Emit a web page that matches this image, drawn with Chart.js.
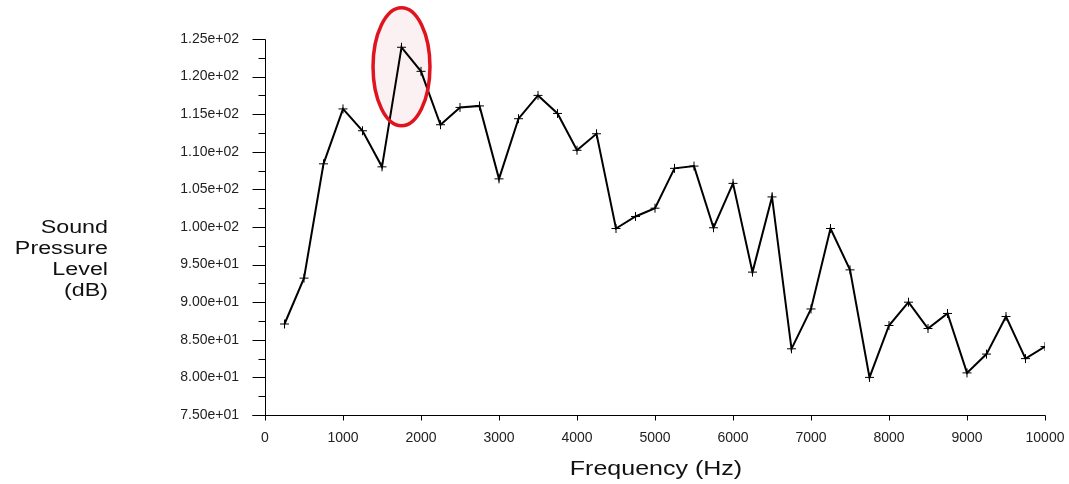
<!DOCTYPE html>
<html>
<head>
<meta charset="utf-8">
<script src="https://cdn.jsdelivr.net/npm/chart.js@4"></script>
<style>
  html, body { margin: 0; padding: 0; background: #fff; }
  #wrap { width: 1069px; height: 484px; position: relative; }
</style>
</head>
<body>
<div id="wrap"><canvas id="spl-chart"></canvas></div>
<script>
// Frequency (Hz) and sound pressure level (dB)
const frequencies = [250, 500, 750, 1000, 1250, 1500, 1750, 2000, 2250, 2500,
  2750, 3000, 3250, 3500, 3750, 4000, 4250, 4500, 4750, 5000,
  5250, 5500, 5750, 6000, 6250, 6500, 6750, 7000, 7250, 7500,
  7750, 8000, 8250, 8500, 8750, 9000, 9250, 9500, 9750, 10000];
const splValues = [87.1, 93.2, 108.4, 115.7, 112.8, 108.0, 123.9, 120.7, 113.6, 115.9,
  116.1, 106.4, 114.4, 117.5, 115.1, 110.2, 112.4, 99.8, 101.4, 102.5,
  107.8, 108.1, 99.9, 105.8, 94.0, 104.0, 83.8, 89.1, 99.8, 94.3,
  80.0, 86.9, 90.0, 86.5, 88.5, 80.6, 83.1, 88.1, 82.5, 84.1];

// Axis ticks
const xTicks = [0, 1000, 2000, 3000, 4000, 5000, 6000, 7000, 8000, 9000, 10000];
const yTicks = [75, 80, 85, 90, 95, 100, 105, 110, 115, 120, 125];
const yMinorTicks = [77.5, 82.5, 87.5, 92.5, 97.5, 102.5, 107.5, 112.5, 117.5, 122.5];

// Highlighted peak (ellipse centre and half sizes, in data units)
const highlight = { x: 1750, y: 121.3, rx: 365, ry: 7.85 };

const yTitleLines = ['Sound', 'Pressure', 'Level', '(dB)'];
const xTitle = 'Frequency (Hz)';

function sciLabel(v) {
  const parts = Number(v).toExponential(2).split('e');
  const exp = parts[1];
  return parts[0] + 'e' + exp[0] + exp.slice(1).padStart(2, '0');
}

// axes, tick marks, ellipse and titles
const decorPlugin = {
  id: 'decor',
  beforeDatasetsDraw(chart) {
    const { ctx, scales: { x, y } } = chart;
    const cx = x.getPixelForValue(highlight.x);
    const cy = y.getPixelForValue(highlight.y);
    const rx = x.getPixelForValue(highlight.x + highlight.rx) - cx;
    const ry = cy - y.getPixelForValue(highlight.y + highlight.ry);
    ctx.save();
    ctx.beginPath();
    ctx.ellipse(cx, cy, rx, ry, 0, 0, Math.PI * 2);
    ctx.fillStyle = 'rgba(240, 200, 210, 0.28)';
    ctx.fill();
    ctx.restore();
  },
  afterDatasetsDraw(chart) {
    const { ctx, scales: { x, y } } = chart;
    const cx = x.getPixelForValue(highlight.x);
    const cy = y.getPixelForValue(highlight.y);
    const rx = x.getPixelForValue(highlight.x + highlight.rx) - cx;
    const ry = cy - y.getPixelForValue(highlight.y + highlight.ry);
    ctx.save();
    ctx.beginPath();
    ctx.ellipse(cx, cy, rx, ry, 0, 0, Math.PI * 2);
    ctx.strokeStyle = '#e0141f';
    ctx.lineWidth = 3.5;
    ctx.stroke();
    ctx.restore();
  },
  afterDraw(chart) {
    const { ctx, scales: { x, y } } = chart;
    const left = Math.round(x.getPixelForValue(0)) + 0.5;
    const right = Math.round(x.getPixelForValue(10000)) + 0.5;
    const bottom = Math.round(y.getPixelForValue(75)) + 0.5;
    const top = Math.round(y.getPixelForValue(125)) + 0.5;

    ctx.save();
    ctx.strokeStyle = '#000';
    ctx.lineWidth = 1;
    ctx.beginPath();
    // y axis line
    ctx.moveTo(left, top);
    ctx.lineTo(left, bottom);
    // x axis line, runs a bit past the y axis
    ctx.moveTo(left - 13, bottom);
    ctx.lineTo(right, bottom);
    yTicks.forEach(v => {
      const py = Math.round(y.getPixelForValue(v)) + 0.5;
      ctx.moveTo(left - 13, py);
      ctx.lineTo(left, py);
    });
    yMinorTicks.forEach(v => {
      const py = Math.round(y.getPixelForValue(v)) + 0.5;
      ctx.moveTo(left - 7, py);
      ctx.lineTo(left, py);
    });
    xTicks.forEach(v => {
      const px = Math.round(x.getPixelForValue(v)) + 0.5;
      ctx.moveTo(px, bottom);
      ctx.lineTo(px, bottom + 5);
    });
    ctx.stroke();

    // titles (source text is drawn slightly wide)
    ctx.fillStyle = '#111';
    ctx.font = '17.5px "Liberation Sans", Arial, sans-serif';
    ctx.textAlign = 'right';
    ctx.textBaseline = 'alphabetic';
    yTitleLines.forEach((line, i) => {
      ctx.save();
      ctx.translate(108, 233 + i * 21);
      ctx.scale(1.33, 1);
      ctx.fillText(line, 0, 0);
      ctx.restore();
    });

    ctx.font = '20.5px "Liberation Sans", Arial, sans-serif';
    ctx.textAlign = 'center';
    ctx.save();
    ctx.translate((x.left + x.right) / 2 + 1, 475);
    ctx.scale(1.22, 1);
    ctx.fillText(xTitle, 0, 0);
    ctx.restore();
    ctx.restore();
  }
};

new Chart(document.getElementById('spl-chart'), {
  type: 'line',
  data: {
    datasets: [{
      label: 'Sound Pressure Level',
      data: frequencies.map((f, i) => ({ x: f, y: splValues[i] })),
      borderColor: '#000',
      borderWidth: 2,
      tension: 0,
      fill: false,
      pointStyle: 'cross',
      pointRadius: 4.5,
      pointBorderWidth: 1,
      pointBorderColor: '#000',
      pointBackgroundColor: '#000'
    }]
  },
  options: {
    responsive: true,
    maintainAspectRatio: false,
    animation: false,
    layout: { padding: { top: 39, right: 24, left: 0, bottom: 0 } },
    scales: {
      x: {
        type: 'linear',
        min: 0,
        max: 10000,
        afterBuildTicks: scale => { scale.ticks = xTicks.map(v => ({ value: v })); },
        afterFit: scale => {
          scale.height = 69;
          scale.paddingLeft = 0;
          scale.paddingRight = 0;
        },
        grid: { display: false, drawTicks: false, tickLength: 0 },
        border: { display: false },
        ticks: {
          padding: 15,
          maxRotation: 0,
          autoSkip: false,
          color: '#222',
          font: { family: '"Liberation Sans", Arial, sans-serif', size: 14 },
          callback: v => String(v)
        }
      },
      y: {
        min: 75,
        max: 125,
        afterBuildTicks: scale => { scale.ticks = yTicks.map(v => ({ value: v })); },
        afterFit: scale => {
          scale.width = 265;
          scale.paddingTop = 0;
          scale.paddingBottom = 0;
        },
        grid: { display: false, drawTicks: false, tickLength: 0 },
        border: { display: false },
        ticks: {
          padding: 26,
          autoSkip: false,
          color: '#222',
          font: { family: '"Liberation Sans", Arial, sans-serif', size: 14 },
          callback: v => sciLabel(v)
        }
      }
    },
    plugins: {
      legend: { display: false },
      tooltip: { enabled: false }
    }
  },
  plugins: [decorPlugin]
});
</script>
</body>
</html>
